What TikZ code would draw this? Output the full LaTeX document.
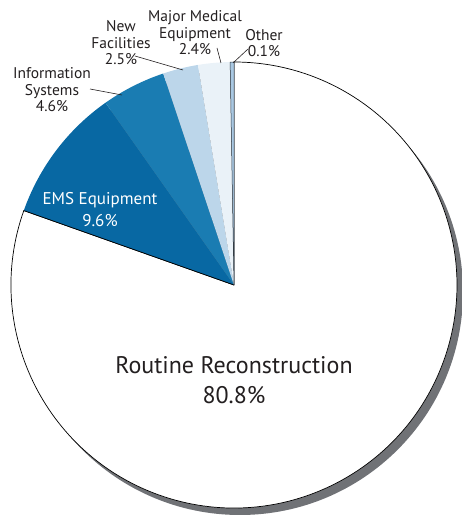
\documentclass[tikz,border=0pt]{standalone}
\usepackage{fontspec}
\setmainfont{PT Sans}
\usetikzlibrary{calc}
\definecolor{othercolor}{HTML}{A9C8E2}
\definecolor{majorcolor}{HTML}{EAF2F8}
\definecolor{newcolor}{HTML}{BCD6EA}
\definecolor{infocolor}{HTML}{1A7CB2}
\definecolor{emscolor}{HTML}{0868A3}
\definecolor{shadowcolor}{HTML}{707276}
\definecolor{textcolor}{HTML}{231F20}

\begin{document}
\begin{tikzpicture}[x=1pt,y=1pt,
  lbl/.style={align=center,text=textcolor,font=\fontsize{15.5}{16.5}\selectfont,inner sep=0pt},
  leader/.style={textcolor,line width=.6pt}]
  \useasboundingbox (0,0) rectangle (462,517);
  % centre and radius
  \coordinate (O) at (234,232); \def\R{223}
  % shadow
  \fill[shadowcolor] ($ (O) + (6,-7) $) circle (\R);
  % routine reconstruction
  \filldraw[fill=white,draw=black,line width=.7pt] (O) -- ++(160.5:\R) arc(160.5:450:\R) -- cycle;
  % small slices
  \fill[emscolor] (O) -- ++(125.2:\R) arc(125.2:160.5:\R) -- cycle;
  \fill[infocolor] (O) -- ++(108.5:\R) arc(108.5:125.2:\R) -- cycle;
  \fill[newcolor] (O) -- ++(99.3:\R) arc(99.3:108.5:\R) -- cycle;
  \fill[majorcolor] (O) -- ++(91:\R) arc(91:99.3:\R) -- cycle;
  \filldraw[fill=othercolor,draw=black!70!othercolor,line width=.5pt] (O) -- ++(90:\R) arc(90:91:\R) -- cycle;
  \draw[black,line width=.7pt] (O) -- ++(160.5:\R);
  % labels
  \node[lbl,font=\fontsize{24}{30}\selectfont] (routine) at (234,137) {Routine Reconstruction\\80.8\%};
  \node[lbl,text=white,font=\fontsize{17}{22}\selectfont] (ems) at (100,307) {EMS Equipment\\9.6\%};
  \node[lbl] (info) at (52,427) {Information\\Systems\\4.6\%};
  \node[lbl] (new) at (121,474) {New\\Facilities\\2.5\%};
  \node[lbl] (major) at (195,484) {Major Medical\\Equipment\\2.4\%};
  \node[lbl] (other) at (264,474) {Other\\0.1\%};
  % leader lines
  \coordinate (infoA) at (90,428); \coordinate (infoB) at (122,422);
  \coordinate (newA) at (135,461); \coordinate (newB) at (183,447);
  \coordinate (majorA) at (217,469); \coordinate (majorB) at (221,454);
  \coordinate (otherA) at (248,468); \coordinate (otherB) at (233,454);
  \draw[leader] (infoA) -- (infoB);
  \draw[leader] (newA) -- (newB);
  \draw[leader] (majorA) -- (majorB);
  \draw[leader] (otherA) -- (otherB);
\end{tikzpicture}
\end{document}
